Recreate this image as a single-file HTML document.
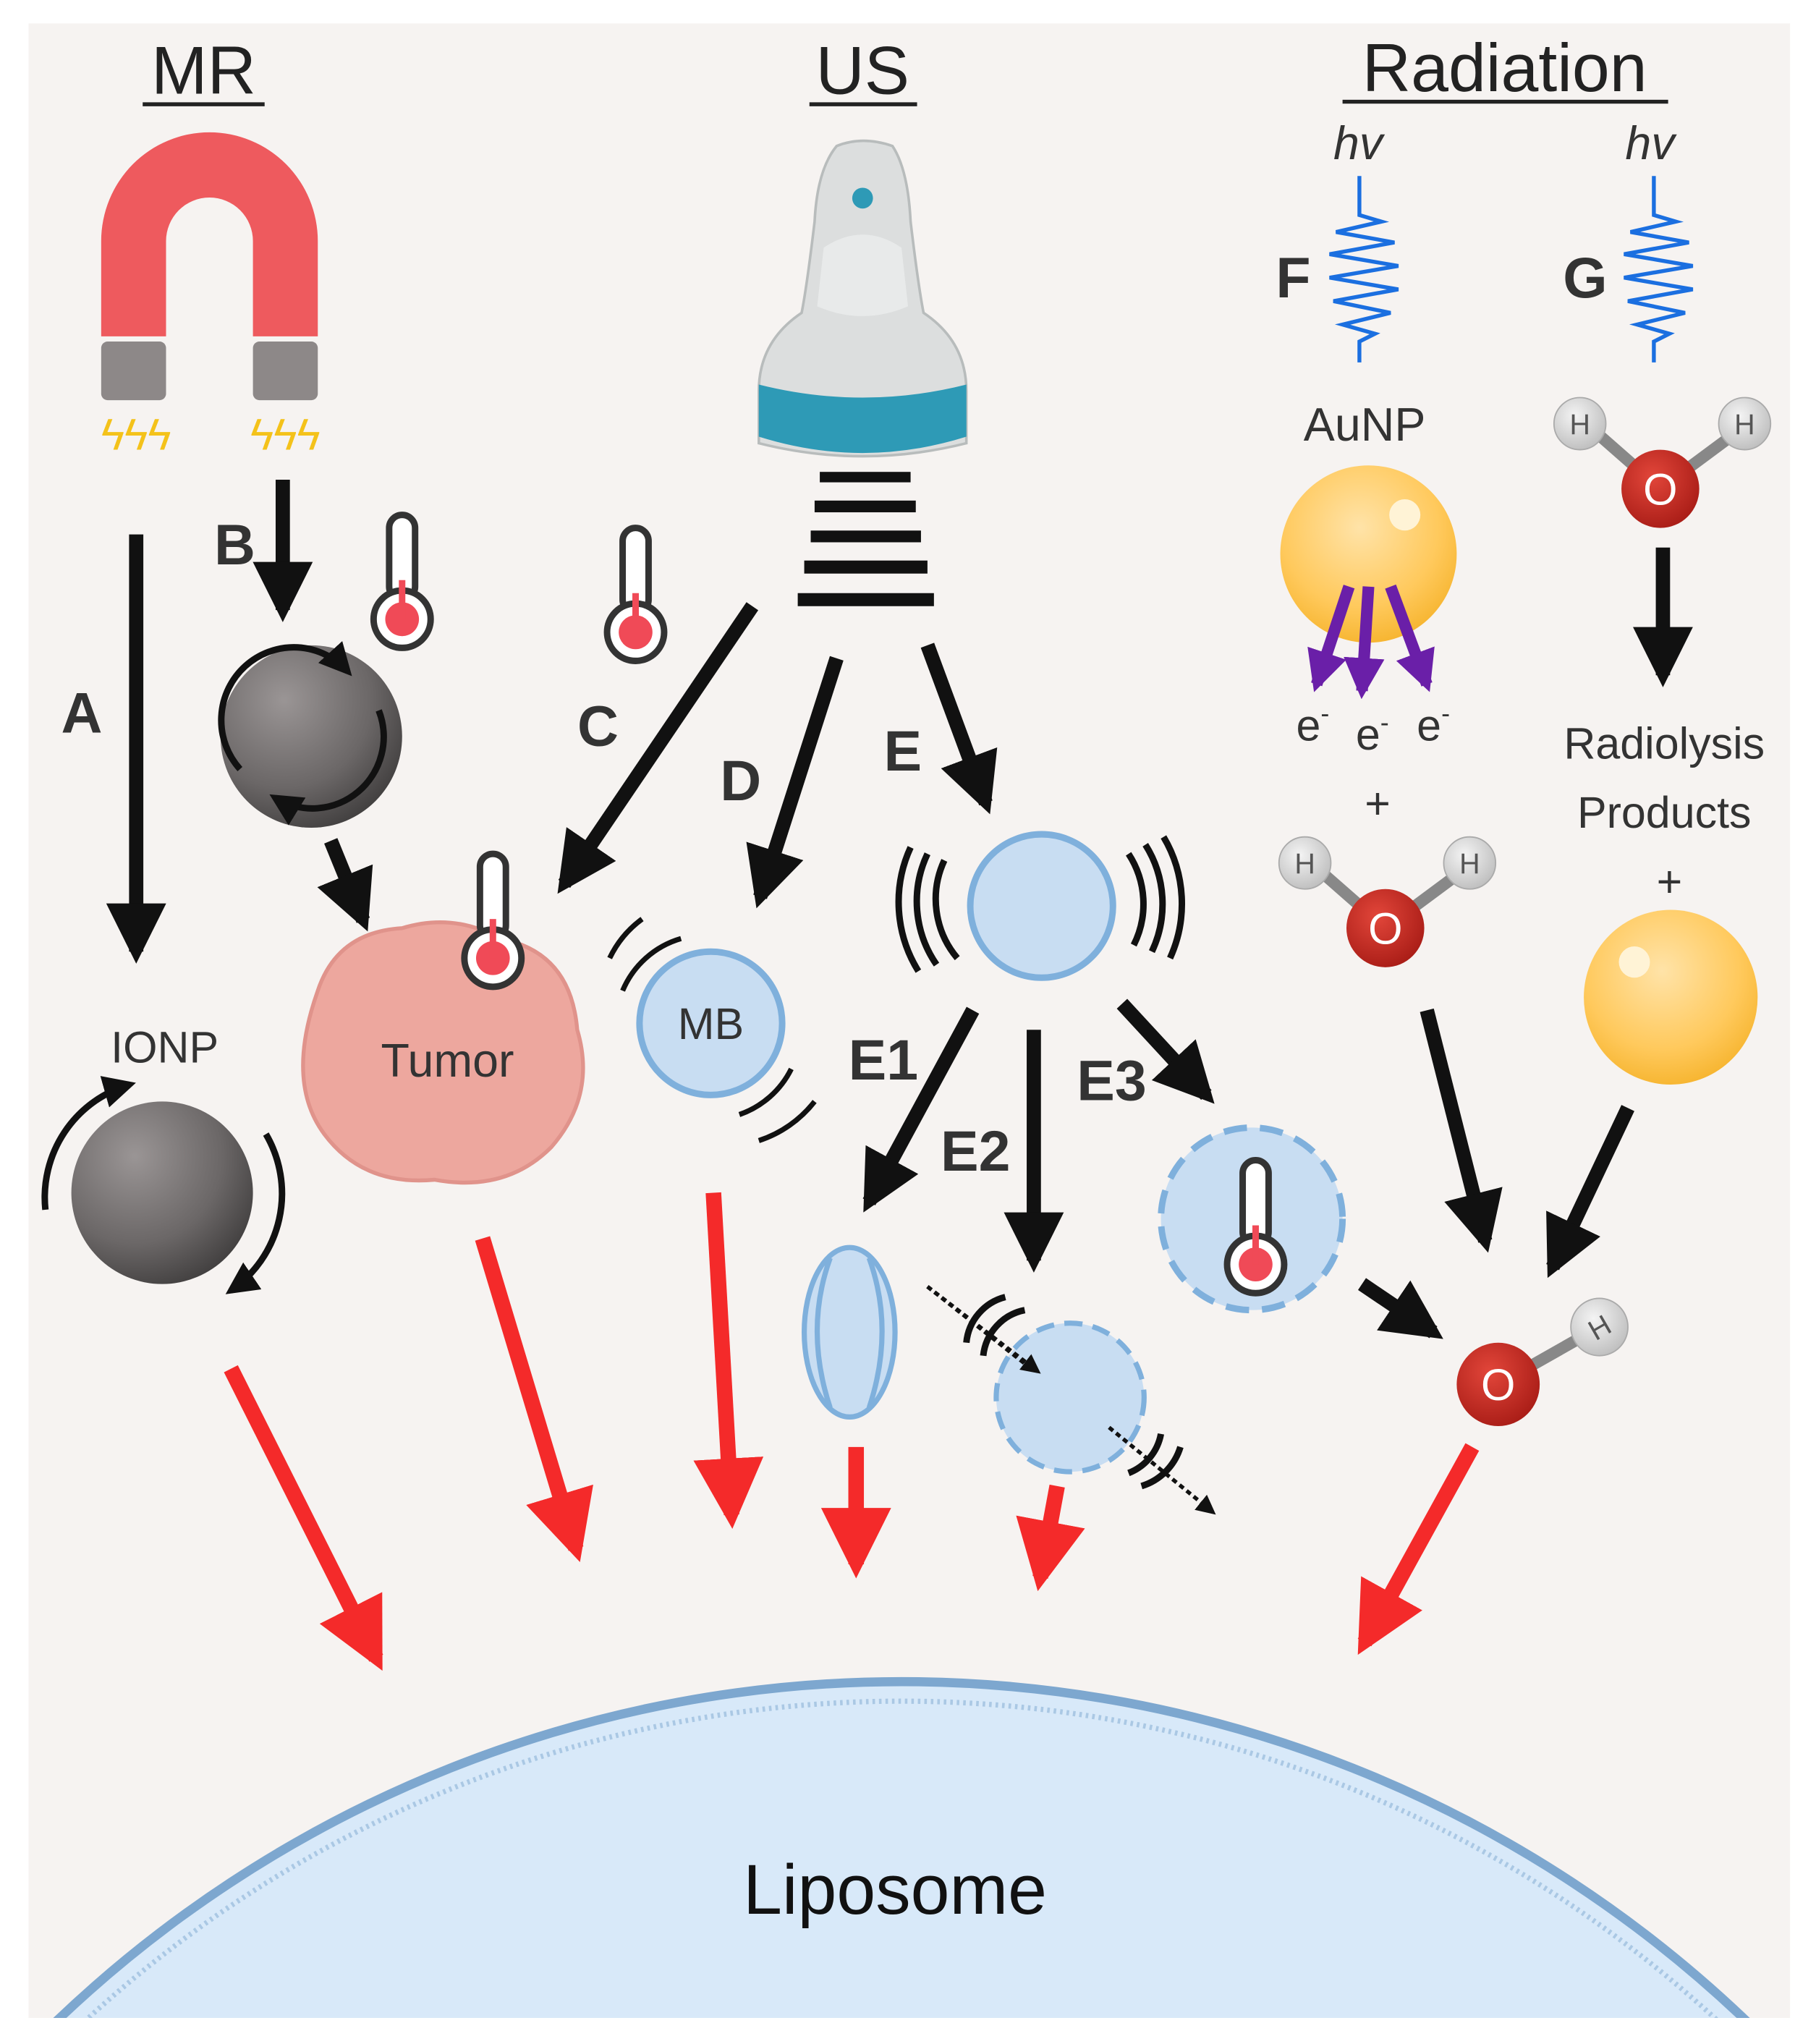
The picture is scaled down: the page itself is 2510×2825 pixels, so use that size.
<!DOCTYPE html>
<html><head><meta charset="utf-8"><style>
html,body{margin:0;padding:0;background:#fff;width:2510px;height:2825px;overflow:hidden;}
svg{display:block;}
text{font-family:"Liberation Sans",sans-serif;}
</style></head><body>
<svg width="2510" height="2825" viewBox="0 0 1400 1568" preserveAspectRatio="none" xmlns="http://www.w3.org/2000/svg">
<defs>
<marker id="bk" viewBox="0 0 10 10" refX="8" refY="5" markerWidth="4.2" markerHeight="4.2" orient="auto" markerUnits="strokeWidth"><path d="M0,0L10,5L0,10z" fill="#111"/></marker>
<marker id="rd" viewBox="0 0 10 10" refX="8" refY="5" markerWidth="4.5" markerHeight="4.5" orient="auto" markerUnits="strokeWidth"><path d="M0,0L10,5L0,10z" fill="#f42a2a"/></marker>
<marker id="pp" viewBox="0 0 10 10" refX="8" refY="5" markerWidth="3.5" markerHeight="3.5" orient="auto" markerUnits="strokeWidth"><path d="M0,0L10,5L0,10z" fill="#6a1fa8"/></marker>
<marker id="sm" viewBox="0 0 10 10" refX="8" refY="5" markerWidth="5" markerHeight="5" orient="auto" markerUnits="strokeWidth"><path d="M0,0L10,5L0,10z" fill="#111"/></marker>
<radialGradient id="gs" cx="0.35" cy="0.3" r="0.8"><stop offset="0" stop-color="#9a9595"/><stop offset="0.6" stop-color="#6b6767"/><stop offset="1" stop-color="#3b3939"/></radialGradient>
<radialGradient id="au" cx="0.45" cy="0.35" r="0.75"><stop offset="0" stop-color="#ffe3a8"/><stop offset="0.6" stop-color="#ffc95c"/><stop offset="1" stop-color="#f3ad1f"/></radialGradient>
<radialGradient id="ox" cx="0.4" cy="0.35" r="0.7"><stop offset="0" stop-color="#e2463a"/><stop offset="1" stop-color="#a81c16"/></radialGradient>
<radialGradient id="hy" cx="0.4" cy="0.35" r="0.7"><stop offset="0" stop-color="#f4f4f4"/><stop offset="1" stop-color="#bdbdbd"/></radialGradient>
<g id="therm"><rect x="-10" y="-55" width="20" height="65" rx="10" fill="#fff" stroke="#333" stroke-width="5"/><circle cx="0" cy="25" r="22" fill="#fff" stroke="#333" stroke-width="5"/><circle cx="0" cy="25" r="13" fill="#f04a57"/><rect x="-2.5" y="-5" width="5" height="30" fill="#f04a57"/></g>
<g id="water"><line x1="-55" y1="-48" x2="0" y2="0" stroke="#888" stroke-width="9"/><line x1="65" y1="-48" x2="0" y2="0" stroke="#888" stroke-width="9"/><circle cx="-62" cy="-50" r="20" fill="url(#hy)" stroke="#aaa"/><circle cx="65" cy="-50" r="20" fill="url(#hy)" stroke="#aaa"/><circle cx="0" cy="0" r="30" fill="url(#ox)"/><text x="-62" y="-42" font-size="22" text-anchor="middle" fill="#555">H</text><text x="65" y="-42" font-size="22" text-anchor="middle" fill="#555">H</text><text x="0" y="12" font-size="34" text-anchor="middle" fill="#fff">O</text></g>
</defs>
<rect width="1400" height="1568" fill="#fff"/>
<rect x="22" y="18" width="1358" height="1530" fill="#f6f3f1"/>
<clipPath id="cp"><rect x="22" y="18" width="1358" height="1530"/></clipPath>
<g clip-path="url(#cp)">
<circle cx="695" cy="2235" r="945" fill="#d8e9f9" stroke="#7da7cf" stroke-width="7"/>
<circle cx="695" cy="2235" r="930" fill="none" stroke="#aac8e4" stroke-width="4" stroke-dasharray="2 3"/>
</g>
<text x="690" y="1468" font-size="54" text-anchor="middle" fill="#111">Liposome</text>
<text x="157" y="72" font-size="52" text-anchor="middle" fill="#222">MR</text><line x1="110" y1="80" x2="204" y2="80" stroke="#222" stroke-width="3"/>
<text x="665" y="72" font-size="52" text-anchor="middle" fill="#222">US</text><line x1="624" y1="80" x2="707" y2="80" stroke="#222" stroke-width="3"/>
<text x="1160" y="70" font-size="52" text-anchor="middle" fill="#222">Radiation</text><line x1="1035" y1="78" x2="1286" y2="78" stroke="#222" stroke-width="3"/>
<path d="M78,258 L78,185 A83,83 0 0 1 245,185 L245,258 L195,258 L195,185 A33,33 0 0 0 128,185 L128,258 Z" fill="#ee5a5e"/>
<rect x="78" y="262" width="50" height="45" rx="5" fill="#8d8888"/><rect x="195" y="262" width="50" height="45" rx="5" fill="#8d8888"/>
<text x="105" y="345" font-size="34" text-anchor="middle" fill="#f4c21a">ϟϟϟ</text><text x="220" y="345" font-size="34" text-anchor="middle" fill="#f4c21a">ϟϟϟ</text>
<path d="M645,112 Q665,104 688,112 Q700,130 702,170 Q708,220 712,240 Q745,262 745,300 L745,340 Q665,360 585,340 L585,300 Q585,262 618,240 Q622,220 628,170 Q630,130 645,112 Z" fill="#dcdede" stroke="#b8bcbc" stroke-width="2"/>
<path d="M635,190 Q665,170 695,190 L700,235 Q665,250 630,235 Z" fill="#e8eaea"/>
<path d="M585,295 Q665,315 745,295 L745,335 Q665,360 585,335 Z" fill="#2e9ab6"/>
<circle cx="665" cy="152" r="8" fill="#2e9ab6"/>
<g fill="#111"><rect x="632" y="362" width="70" height="8"/><rect x="628" y="384" width="78" height="9"/><rect x="625" y="407" width="85" height="9"/><rect x="620" y="430" width="95" height="10"/><rect x="615" y="455" width="105" height="10"/></g>
<g stroke="#111" stroke-width="11" marker-end="url(#bk)" fill="none">
<line x1="105" y1="410" x2="105" y2="730"/>
<line x1="218" y1="368" x2="218" y2="468"/>
<line x1="580" y1="465" x2="435" y2="678"/>
<line x1="645" y1="505" x2="586" y2="688"/>
<line x1="715" y1="495" x2="760" y2="616"/>
<line x1="255" y1="645" x2="280" y2="706"/>
<line x1="750" y1="775" x2="670" y2="922"/>
<line x1="797" y1="790" x2="797" y2="967"/>
<line x1="865" y1="770" x2="930" y2="840"/>
<line x1="1050" y1="985" x2="1105" y2="1022"/>
<line x1="1100" y1="775" x2="1145" y2="952"/>
<line x1="1255" y1="850" x2="1197" y2="972"/>
<line x1="1282" y1="420" x2="1282" y2="518"/>
</g>
<g stroke="#f42a2a" stroke-width="12" marker-end="url(#rd)" fill="none">
<line x1="178" y1="1050" x2="290" y2="1272"/>
<line x1="372" y1="950" x2="444" y2="1188"/>
<line x1="550" y1="915" x2="564" y2="1162"/>
<line x1="660" y1="1110" x2="660" y2="1200"/>
<line x1="815" y1="1140" x2="802" y2="1210"/>
<line x1="1135" y1="1110" x2="1052" y2="1260"/>
</g>
<circle cx="125" cy="915" r="70" fill="url(#gs)"/>
<path d="M35,928 A90,90 0 0 1 100,832" stroke="#111" stroke-width="5" fill="none" marker-end="url(#sm)"/>
<path d="M205,870 A90,90 0 0 1 178,990" stroke="#111" stroke-width="5" fill="none" marker-end="url(#sm)"/>
<text x="127" y="815" font-size="34" text-anchor="middle" fill="#333">IONP</text>
<circle cx="240" cy="565" r="70" fill="url(#gs)"/>
<path d="M185,590 A55,55 0 0 1 268,515" stroke="#111" stroke-width="5" fill="none" marker-end="url(#sm)"/>
<path d="M292,545 A55,55 0 0 1 212,612" stroke="#111" stroke-width="5" fill="none" marker-end="url(#sm)"/>
<path d="M245,760 Q260,715 310,712 Q350,700 385,720 Q440,730 445,790 Q460,840 425,880 Q390,915 335,905 Q280,910 250,870 Q220,830 245,760Z" fill="#eda79e" stroke="#e0938b" stroke-width="3"/>
<text x="345" y="826" font-size="36" text-anchor="middle" fill="#333">Tumor</text>
<use href="#therm" x="380" y="710"/>
<use href="#therm" x="310" y="450"/>
<use href="#therm" x="490" y="460"/>
<circle cx="548" cy="785" r="55" fill="#c8ddf2" stroke="#7fb0dc" stroke-width="5"/>
<text x="548" y="797" font-size="34" text-anchor="middle" fill="#333">MB</text>
<g stroke="#111" stroke-width="4" fill="none"><path d="M470,735 A80,80 0 0 1 495,705"/><path d="M480,760 A70,70 0 0 1 525,720"/><path d="M570,855 A70,70 0 0 0 610,820"/><path d="M585,875 A90,90 0 0 0 628,845"/></g>
<circle cx="803" cy="695" r="55" fill="#c8ddf2" stroke="#7fb0dc" stroke-width="5"/>
<g stroke="#111" stroke-width="5" fill="none"><path d="M728,660 A70,70 0 0 0 738,735"/><path d="M715,655 A85,85 0 0 0 722,740"/><path d="M702,650 A100,100 0 0 0 708,745"/><path d="M870,655 A70,70 0 0 1 874,725"/><path d="M883,648 A85,85 0 0 1 888,730"/><path d="M897,642 A100,100 0 0 1 902,735"/></g>
<ellipse cx="655" cy="1022" rx="35" ry="65" fill="#c8ddf2" stroke="#7fb0dc" stroke-width="4"/>
<path d="M640,965 Q620,1020 640,1080 M670,965 Q690,1020 670,1080" stroke="#7fb0dc" stroke-width="4" fill="none"/>
<circle cx="825" cy="1072" r="57" fill="#c8ddf2" stroke="#7fb0dc" stroke-width="4" stroke-dasharray="14 8"/>
<g stroke="#111" stroke-width="3" stroke-dasharray="4 3" fill="none"><line x1="795" y1="1050" x2="715" y2="987"/><line x1="715" y1="987" x2="800" y2="1052" marker-end="url(#sm)"/><line x1="855" y1="1095" x2="935" y2="1160" marker-end="url(#sm)"/></g>
<g stroke="#111" stroke-width="5" fill="none"><path d="M745,1030 A40,40 0 0 1 775,995"/><path d="M758,1040 A40,40 0 0 1 790,1005"/><path d="M870,1130 A40,40 0 0 0 895,1100"/><path d="M880,1140 A45,45 0 0 0 910,1110"/></g>
<circle cx="965" cy="935" r="70" fill="#c8ddf2" stroke="#7fb0dc" stroke-width="5" stroke-dasharray="18 10"/>
<use href="#therm" x="968" y="945"/>
<g font-size="44" font-weight="bold" fill="#333" text-anchor="middle">
<text x="63" y="562">A</text><text x="181" y="433">B</text><text x="461" y="572">C</text><text x="571" y="614">D</text><text x="696" y="591">E</text>
<text x="681" y="828">E1</text><text x="752" y="898">E2</text><text x="857" y="844">E3</text>
<text x="997" y="228">F</text><text x="1222" y="228">G</text></g>
<text x="1047" y="122" font-size="36" font-style="italic" text-anchor="middle" fill="#333">hv</text>
<text x="1272" y="122" font-size="36" font-style="italic" text-anchor="middle" fill="#333">hv</text>
<g stroke="#1b6fe0" stroke-width="3" fill="none">
<path d="M1048,135 L1048,165 L1065,170 L1030,178 L1075,186 L1025,195 L1078,204 L1025,213 L1078,222 L1028,231 L1072,240 L1035,249 L1060,256 L1048,262 L1048,278"/>
<path d="M1275,135 L1275,165 L1292,170 L1257,178 L1302,186 L1252,195 L1305,204 L1252,213 L1305,222 L1255,231 L1299,240 L1262,249 L1287,256 L1275,262 L1275,278"/></g>
<text x="1052" y="338" font-size="36" text-anchor="middle" fill="#333">AuNP</text>
<circle cx="1055" cy="425" r="68" fill="url(#au)"/><circle cx="1083" cy="395" r="12" fill="#fff3d6"/>
<g stroke="#6a1fa8" stroke-width="9" marker-end="url(#pp)"><line x1="1040" y1="450" x2="1015" y2="525"/><line x1="1055" y1="450" x2="1050" y2="530"/><line x1="1072" y1="450" x2="1100" y2="525"/></g>
<g font-size="34" fill="#333" text-anchor="middle"><text x="1012" y="568">e<tspan font-size="20" dy="-14">-</tspan></text><text x="1058" y="575">e<tspan font-size="20" dy="-14">-</tspan></text><text x="1105" y="568">e<tspan font-size="20" dy="-14">-</tspan></text>
<text x="1062" y="628">+</text><text x="1283" y="582">Radiolysis</text><text x="1283" y="635">Products</text><text x="1287" y="688">+</text></g>
<use href="#water" x="1068" y="712"/>
<use href="#water" x="1280" y="375"/>
<circle cx="1288" cy="765" r="67" fill="url(#au)"/><circle cx="1260" cy="738" r="12" fill="#fff3d6"/>
<line x1="1155" y1="1062" x2="1233" y2="1018" stroke="#888" stroke-width="9"/>
<circle cx="1233" cy="1018" r="22" fill="url(#hy)" stroke="#aaa"/>
<circle cx="1155" cy="1062" r="32" fill="url(#ox)"/>
<text x="1233" y="1026" font-size="22" text-anchor="middle" fill="#555" transform="rotate(-30 1233 1018)">H</text>
<text x="1155" y="1074" font-size="34" text-anchor="middle" fill="#fff">O</text>
</svg>
</body></html>
